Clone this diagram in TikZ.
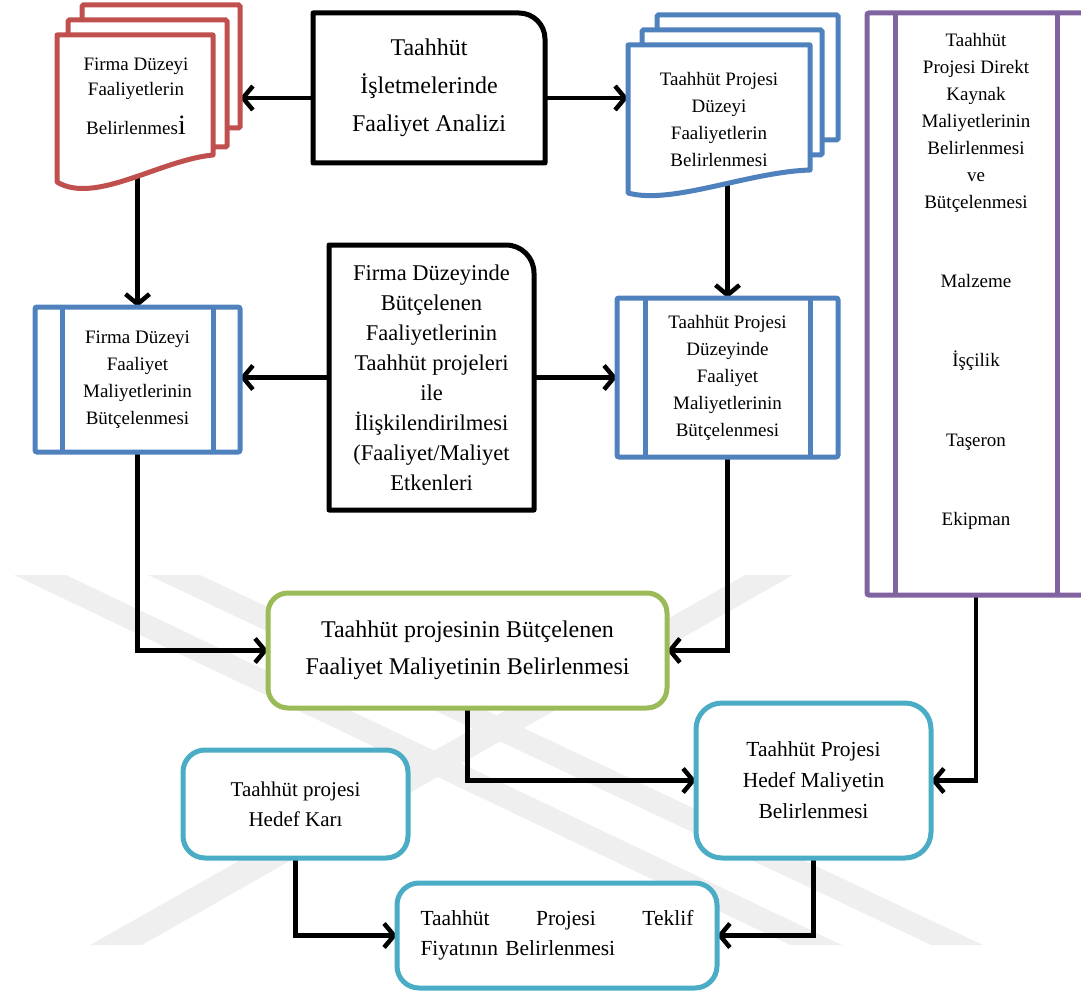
\documentclass[tikz,border=0pt]{standalone}
\usepackage{fontspec}
\setmainfont{Liberation Serif}
\usetikzlibrary{arrows.meta}
\pgfdeclarelayer{bg}
\pgfdeclarelayer{frames}
\pgfsetlayers{bg,frames,main}
\definecolor{docred}{HTML}{C0504D}
\definecolor{docblue}{HTML}{4F81BD}
\definecolor{procpurple}{HTML}{8064A2}
\definecolor{boxgreen}{HTML}{9BBB59}
\definecolor{boxcyan}{HTML}{4BACC6}
\definecolor{wmgray}{HTML}{EFEFEF}
\begin{document}
\begin{tikzpicture}[x=1pt,y=-1pt,
  every node/.style={inner sep=0pt,outer sep=0pt},
  conn/.style={line width=4.8pt,
    -{Straight Barb[length=10pt,width=24pt,line width=4.5pt]}},
  backpage/.style={draw=#1,fill=white,line width=5pt,rectangle,rounded corners=1.5pt},
  frontpage/.style={draw=#1,fill=white,line width=5pt,line join=round},
  proc/.style={draw=#1,fill=white,line width=5pt,rectangle,rounded corners=2pt,align=center},
  procline/.style={draw=#1,line width=5pt},
  roundbox/.style={draw=#1,fill=white,line width=5pt,rectangle,rounded corners=22pt,align=center},
  plainbox/.style={fill=white,rectangle,align=center},
  sharpframe/.style={line width=5pt,line join=round},
  doctext/.style={align=center,anchor=north},
]
\useasboundingbox (0,0) rectangle (1081,995);

% ---- central activity analysis box (one rounded corner)
\node[plainbox, minimum width=232pt, minimum height=150pt,
      font=\fontsize{24}{38}\selectfont] (analiz) at (429,88)
  {Taahhüt\\İşletmelerinde\\Faaliyet Analizi\rule[-6pt]{0pt}{0pt}};
\draw[sharpframe] (analiz.south west) -- (analiz.north west)
  -- ([xshift=-26pt]analiz.north east) arc[start angle=90,end angle=0,radius=26pt]
  -- (analiz.south east) -- cycle;

% ---- cost driver box (one rounded corner)
\node[plainbox, minimum width=205pt, minimum height=265pt,
      font=\fontsize{22.5}{30}\selectfont] (iliski) at (431.5,377.5)
  {Firma Düzeyinde\\Bütçelenen\\Faaliyetlerinin\\Taahhüt projeleri\\ile\\İlişkilendirilmesi\\(Faaliyet/Maliyet\\Etkenleri};
\draw[sharpframe] (iliski.south west) -- (iliski.north west)
  -- ([xshift=-28pt]iliski.north east) arc[start angle=90,end angle=0,radius=28pt]
  -- (iliski.south east) -- cycle;

% ---- predefined process boxes
\node[proc=docblue, minimum width=205pt, minimum height=145pt,
      font=\fontsize{19}{27}\selectfont] (firmaButce) at (137.5,379.5)
  {Firma Düzeyi\\Faaliyet\\Maliyetlerinin\\Bütçelenmesi};
\draw[procline=docblue] ([xshift=27pt]firmaButce.north west) -- ([xshift=27pt]firmaButce.south west);
\draw[procline=docblue] ([xshift=-27pt]firmaButce.north east) -- ([xshift=-27pt]firmaButce.south east);

\node[proc=docblue, minimum width=221pt, minimum height=159pt,
      font=\fontsize{19}{27}\selectfont] (projeButce) at (727.5,377.5)
  {Taahhüt Projesi\\Düzeyinde\\Faaliyet\\Maliyetlerinin\\Bütçelenmesi};
\draw[procline=docblue] ([xshift=28pt]projeButce.north west) -- ([xshift=28pt]projeButce.south west);
\draw[procline=docblue] ([xshift=-28pt]projeButce.north east) -- ([xshift=-28pt]projeButce.south east);

\node[proc=procpurple, minimum width=218pt, minimum height=582pt] (kaynak) at (976,304) {};
\draw[procline=procpurple] ([xshift=28pt]kaynak.north west) -- ([xshift=28pt]kaynak.south west);
\draw[procline=procpurple] ([xshift=-28pt]kaynak.north east) -- ([xshift=-28pt]kaynak.south east);
\node[doctext, font=\fontsize{19}{27}\selectfont] (kaynakText) at (976,33)
  {Taahhüt\\Projesi Direkt\\Kaynak\\Maliyetlerinin\\Belirlenmesi\\ve\\Bütçelenmesi\\[52pt]Malzeme\\[52.5pt]İşçilik\\[52.5pt]Taşeron\\[52.5pt]Ekipman};

% ---- rounded process boxes
\node[roundbox=boxgreen, rounded corners=20pt, minimum width=399pt, minimum height=115pt,
      font=\fontsize{24}{37}\selectfont] (butceMal) at (467.5,650.5)
  {Taahhüt projesinin Bütçelenen\\Faaliyet Maliyetinin Belirlenmesi};

\node[roundbox=boxcyan, rounded corners=26pt, minimum width=235pt, minimum height=155pt,
      font=\fontsize{21.5}{31}\selectfont] (hedefMal) at (813.5,780.5)
  {Taahhüt Projesi\\Hedef Maliyetin\\Belirlenmesi};

\node[roundbox=boxcyan, minimum width=225pt, minimum height=108pt,
      font=\fontsize{21}{30}\selectfont] (hedefKar) at (295.5,804)
  {Taahhüt projesi\\Hedef Karı};

\node[roundbox=boxcyan, minimum width=320pt, minimum height=105pt,
      font=\fontsize{21.5}{30}\selectfont, align=left, text width=273pt] (teklif) at (557,935.5)
  {Taahhüt\hfill Projesi\hfill Teklif\\Fiyatının Belirlenmesi};

% ---- multi-document stacks
\node[minimum width=156pt, minimum height=147pt] (fd1) at (135,108.5) {};
\node[doctext, font=\fontsize{19}{25}\selectfont] (fdText) at (136,58)
  {Firma Düzeyi\\Faaliyetlerin\\[14pt]Belirlenmes{\fontsize{28}{28}\selectfont i}};

\node[minimum width=182pt, minimum height=148pt] (bd1) at (719,119) {};
\node[doctext, font=\fontsize{19}{27}\selectfont] (bdText) at (719,72)
  {Taahhüt Projesi\\Düzeyi\\Faaliyetlerin\\Belirlenmesi};

\begin{pgfonlayer}{frames}
  \node[backpage=docred, minimum width=158pt, minimum height=123pt] (fd3) at (161,66.5) {};
  \node[backpage=docred, minimum width=159pt, minimum height=127pt] (fd2) at (147.5,83.5) {};
  \path[frontpage=docred] (57,35) -- (213,35) -- (213,155)
    .. controls (160,160) and (95,205) .. (57,182) -- cycle;
  \node[backpage=docblue, minimum width=181pt, minimum height=125pt] (bd3) at (747.5,77.5) {};
  \node[backpage=docblue, minimum width=180pt, minimum height=125pt] (bd2) at (732,92.5) {};
  \path[frontpage=docblue] (628,45) -- (810,45) -- (810,170)
    .. controls (748,172) and (672,205) .. (628,193) -- cycle;
\end{pgfonlayer}

\begin{pgfonlayer}{bg}
  % faint background emblem
  \begin{scope}
    \clip (0,575) rectangle (1081,945);
    \fill[wmgray] (14,575) -- (66,575) -- (842,945) -- (790,945) -- cycle;
    \fill[wmgray] (148,575) -- (200,575) -- (983,945) -- (931,945) -- cycle;
    \fill[wmgray] (745,575) -- (793,575) -- (142,945) -- (90,945) -- cycle;
  \end{scope}
  % connectors
  \draw[conn] ([yshift=-10pt]analiz.west) -- ([yshift=-10pt]analiz.west -| fd3.east);
  \draw[conn] ([yshift=-10pt]analiz.east) -- ([yshift=-10pt]analiz.east -| bd1.west);
  \draw[conn] (fd1.center -| firmaButce.north) -- (firmaButce.north);
  \draw[conn] (bd1.center -| projeButce.north) -- (projeButce.north);
  \draw[conn] (iliski.west) -- (iliski.west -| firmaButce.east);
  \draw[conn] (iliski.east) -- (iliski.east -| projeButce.west);
  \draw[conn] (firmaButce.south) |- (butceMal.west);
  \draw[conn] (projeButce.south) |- (butceMal.east);
  \draw[conn] (butceMal.south) |- (hedefMal.west);
  \draw[conn] (kaynak.south) |- (hedefMal.east);
  \draw[conn] (hedefKar.south) |- (teklif.west);
  \draw[conn] (hedefMal.south) |- (teklif.east);
\end{pgfonlayer}
\end{tikzpicture}
\end{document}
